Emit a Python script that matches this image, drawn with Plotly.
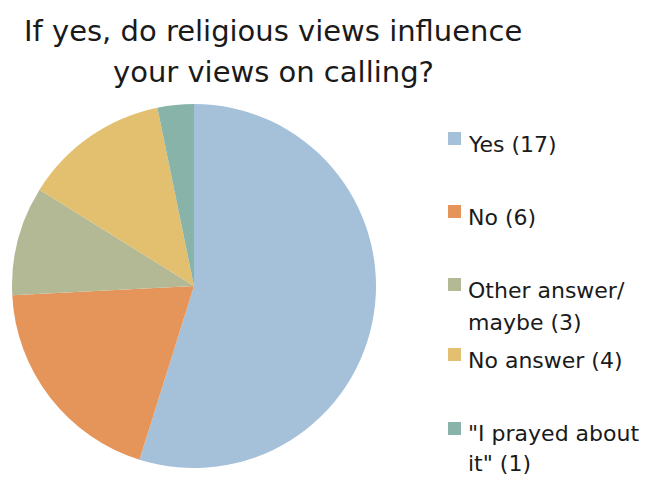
import plotly.graph_objects as go

W, H = 647, 480

labels = ["Yes", "No", "Other answer/ maybe", "No answer", "\"I prayed about it\""]
values = [17, 6, 3, 4, 1]
colors = ["#A5C1DA", "#E6955A", "#B3B995", "#E2C070", "#88B3A8"]
legend_lines = [
    ["Yes (17)"],
    ["No (6)"],
    ["Other answer/", "maybe (3)"],
    ["No answer (4)"],
    ["\"I prayed about", "it\" (1)"],
]
title_lines = ["If yes, do religious views influence", "your views on calling?"]

FONT = "DejaVu Sans"

fig = go.Figure(go.Pie(
    labels=labels,
    values=values,
    marker=dict(colors=colors, line=dict(width=0)),
    sort=False,
    direction="clockwise",
    rotation=0,
    textinfo="none",
    hoverinfo="label+value",
    showlegend=False,
    domain=dict(x=[12 / W, 376 / W], y=[1 - 468 / H, 1 - 104 / H]),
))

# legend drawn as annotations + square shapes
line_y = [[145], [217], [290, 322], [360], [433, 463]]
sq_top = [132, 205, 278, 348, 422]
annotations = []
shapes = []
for i, lines in enumerate(legend_lines):
    for j, txt in enumerate(lines):
        annotations.append(dict(
            text=txt, x=466 / W, y=1 - line_y[i][j] / H,
            xref="paper", yref="paper", xanchor="left", yanchor="middle",
            showarrow=False, font=dict(family=FONT, size=22, color="#1a1a1a"),
        ))
    shapes.append(dict(
        type="rect", xref="paper", yref="paper",
        x0=448 / W, x1=461 / W,
        y0=1 - (sq_top[i] + 13) / H, y1=1 - sq_top[i] / H,
        fillcolor=colors[i], line=dict(width=0),
    ))

title_y = [31, 72]
for txt, ty in zip(title_lines, title_y):
    annotations.append(dict(
        text=txt, x=273 / W, y=1 - ty / H,
        xref="paper", yref="paper", xanchor="center", yanchor="middle",
        showarrow=False,
        font=dict(family=FONT, size=29, color="#1a1a1a"),
    ))

fig.update_layout(
    width=W, height=H,
    margin=dict(l=0, r=0, t=0, b=0),
    paper_bgcolor="white", plot_bgcolor="white",
    annotations=annotations, shapes=shapes,
)

fig.write_html("out.html")
